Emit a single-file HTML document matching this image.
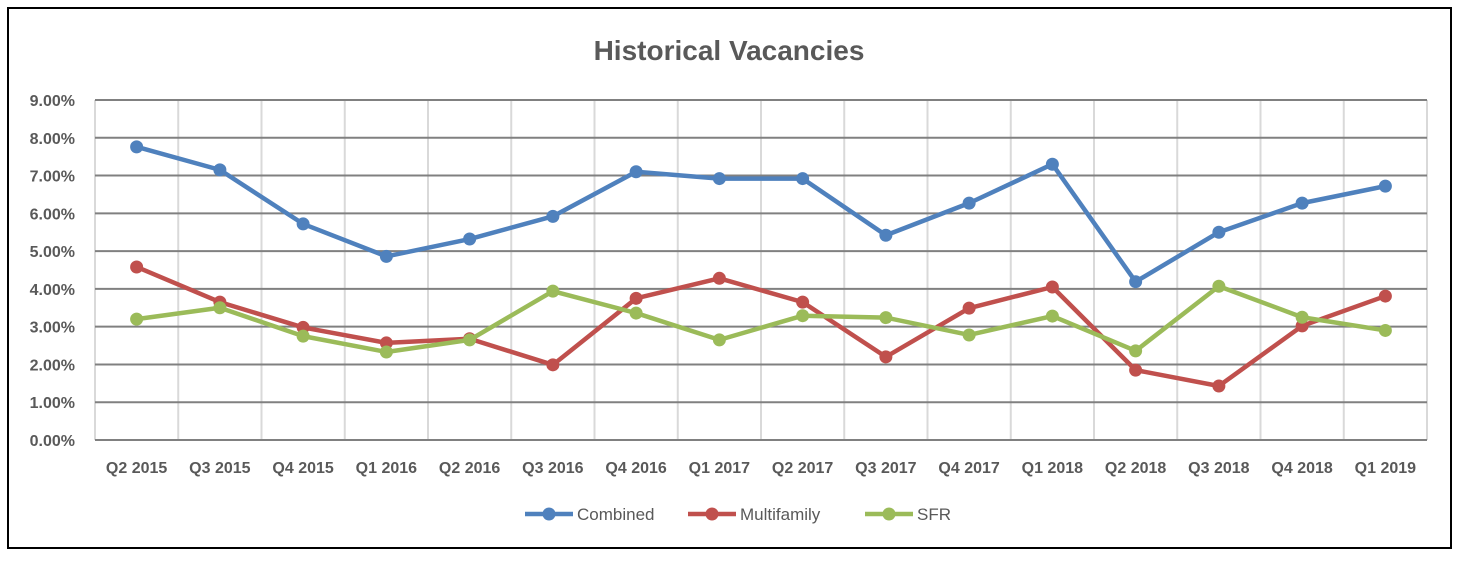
<!DOCTYPE html>
<html><head><meta charset="utf-8"><style>
body{margin:0;background:#fff;}
svg text{font-family:"Liberation Sans",Arial,sans-serif;}
</style></head><body>
<svg width="1459" height="558" xmlns="http://www.w3.org/2000/svg">
<rect x="8" y="8" width="1443" height="540" fill="#fff" stroke="#000" stroke-width="2"/>
<text x="729" y="60" text-anchor="middle" font-size="28" font-weight="bold" fill="#595959">Historical Vacancies</text>
<g id="grid"></g><g id="axes"></g><g id="series"></g><g id="legend"></g>
</svg>
<script>
const categories=["Q2 2015","Q3 2015","Q4 2015","Q1 2016","Q2 2016","Q3 2016","Q4 2016","Q1 2017","Q2 2017","Q3 2017","Q4 2017","Q1 2018","Q2 2018","Q3 2018","Q4 2018","Q1 2019"];
const combined=[7.76,7.15,5.72,4.86,5.32,5.92,7.10,6.92,6.92,5.42,6.27,7.30,4.19,5.50,6.27,6.72];
const multifamily=[4.58,3.65,2.98,2.57,2.68,1.99,3.75,4.28,3.65,2.20,3.49,4.05,1.85,1.43,3.02,3.81];
const sfr=[3.20,3.50,2.75,2.33,2.65,3.94,3.36,2.65,3.29,3.24,2.78,3.28,2.36,4.07,3.25,2.90];
const yTicks=[0,1,2,3,4,5,6,7,8,9];
const seriesNames=["Combined","Multifamily","SFR"];

const NS="http://www.w3.org/2000/svg";
const L=95,R=1427,T=100,B=440,yMax=9;
const bw=(R-L)/categories.length;
const x=i=>L+bw*(i+0.5);
const y=v=>B-(v/yMax)*(B-T);
function mk(tag,attrs,parent){const e=document.createElementNS(NS,tag);for(const k in attrs)e.setAttribute(k,attrs[k]);parent.appendChild(e);return e;}
const grid=document.getElementById('grid'),axes=document.getElementById('axes'),ser=document.getElementById('series'),leg=document.getElementById('legend');
for(let i=0;i<=categories.length;i++){
  const l=mk('line',{x1:L+bw*i,x2:L+bw*i,y1:T,y2:B,stroke:'#d9d9d9','stroke-width':2},grid);
  
  
}
yTicks.forEach(t=>{
  const l=mk('line',{x1:L,x2:R,y1:y(t),y2:y(t),stroke:'#808080','stroke-width':2},grid);
  
  
  const tx=mk('text',{x:75,y:y(t)+6,'text-anchor':'end','font-size':16,'font-weight':'bold',fill:'#595959'},axes);
  tx.textContent=t.toFixed(2)+'%';
  
  
});
categories.forEach((c,i)=>{
  const tx=mk('text',{x:x(i),y:473,'text-anchor':'middle','font-size':16,'font-weight':'bold',fill:'#595959'},axes);
  tx.textContent=c;
  
  
});
const data=[combined,multifamily,sfr];
const colors=['#4f81bd','#c0504d','#9bbb59'];
data.forEach((d,s)=>{
  const g=mk('g',{},ser);
  
  
  const p=mk('polyline',{points:d.map((v,i)=>x(i)+','+y(v)).join(' '),fill:'none',stroke:colors[s],'stroke-width':4.5,'stroke-linejoin':'round'},g);
  
  
  d.forEach((v,i)=>{
    const c=mk('circle',{cx:x(i),cy:y(v),r:6.5,fill:colors[s]},g);
    
    
  });
});
const lx=[525,688,865];
seriesNames.forEach((n,s)=>{
  const g=mk('g',{},leg);
  
  
  mk('line',{x1:lx[s],x2:lx[s]+48,y1:514,y2:514,stroke:colors[s],'stroke-width':4.5},g);
  mk('circle',{cx:lx[s]+24,cy:514,r:6.5,fill:colors[s]},g);
  const t=mk('text',{x:lx[s]+52,y:520,'font-size':17,fill:'#595959'},g);
  t.textContent=n;
});
</script>
</body></html>
